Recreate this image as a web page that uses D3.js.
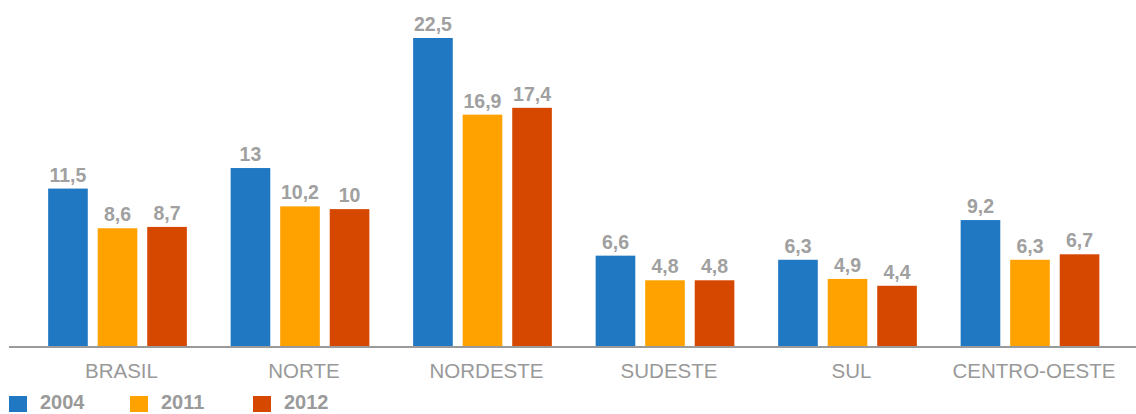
<!DOCTYPE html>
<html><head><meta charset="utf-8">
<script src="https://cdn.jsdelivr.net/npm/d3@7"></script>
<style>body{margin:0;background:#fff}svg{display:block}</style>
</head><body>
<script>
const categories = ["BRASIL","NORTE","NORDESTE","SUDESTE","SUL","CENTRO-OESTE"];
const series = ["2004","2011","2012"];
const v2004 = [11.5, 13, 22.5, 6.6, 6.3, 9.2];
const v2011 = [8.6, 10.2, 16.9, 4.8, 4.9, 6.3];
const v2012 = [8.7, 10, 17.4, 4.8, 4.4, 6.7];
const colors = ["#2178c2", "#ffa200", "#d64800"];
const values = [v2004, v2011, v2012];

const W = 1136, H = 414;
const svg = d3.select("body").append("svg").attr("width", W).attr("height", H);
const base = 346;
const y = d3.scaleLinear().domain([0, 22.5]).range([base, 38]);
const x0 = d3.scaleBand().domain(categories).range([26.25, 1121.25]).paddingInner(0.24).paddingOuter(0.12);
const x1 = d3.scaleBand().domain(series).range([0, x0.bandwidth()]).paddingInner(0.2);

const fmt = v => String(v).replace(".", ",");

categories.forEach((c, i) => {
  const g = svg.append("g").attr("transform", `translate(${x0(c)},0)`);
  series.forEach((s, j) => {
    const val = values[j][i];
    g.append("rect").attr("x", x1(s)).attr("width", x1.bandwidth())
      .attr("y", y(val)).attr("height", base - y(val)).attr("fill", colors[j]);
    g.append("text").attr("x", x1(s) + x1.bandwidth() / 2).attr("y", y(val) - 7)
      .attr("text-anchor", "middle").attr("font-family", "Liberation Sans, Arial, sans-serif")
      .attr("font-weight", "bold").attr("font-size", 19.5).attr("fill", "#a0a0a0").text(fmt(val));
  });
});

svg.append("line").attr("x1", 9).attr("x2", W).attr("y1", base + 1).attr("y2", base + 1)
  .attr("stroke", "#9a9a9a").attr("stroke-width", 2);

const xAxis = d3.axisBottom(x0).tickSize(0).tickPadding(0);
const ax = svg.append("g").attr("transform", `translate(0,${base})`).call(xAxis);
ax.select(".domain").remove();
ax.selectAll("text").attr("dy", null).attr("y", 32).attr("font-family", "Liberation Sans, Arial, sans-serif")
  .attr("font-size", 20.5).attr("fill", "#999").attr("dx", 4);

const legX = [9, 130, 253];
series.forEach((s, j) => {
  svg.append("rect").attr("x", legX[j]).attr("y", 396).attr("width", 18).attr("height", 16).attr("fill", colors[j]);
  svg.append("text").attr("x", legX[j] + 31).attr("y", 409).attr("font-family", "Liberation Sans, Arial, sans-serif")
    .attr("font-weight", "bold").attr("font-size", 20).attr("fill", "#9a9a9a").text(s);
});
</script>
</body></html>
